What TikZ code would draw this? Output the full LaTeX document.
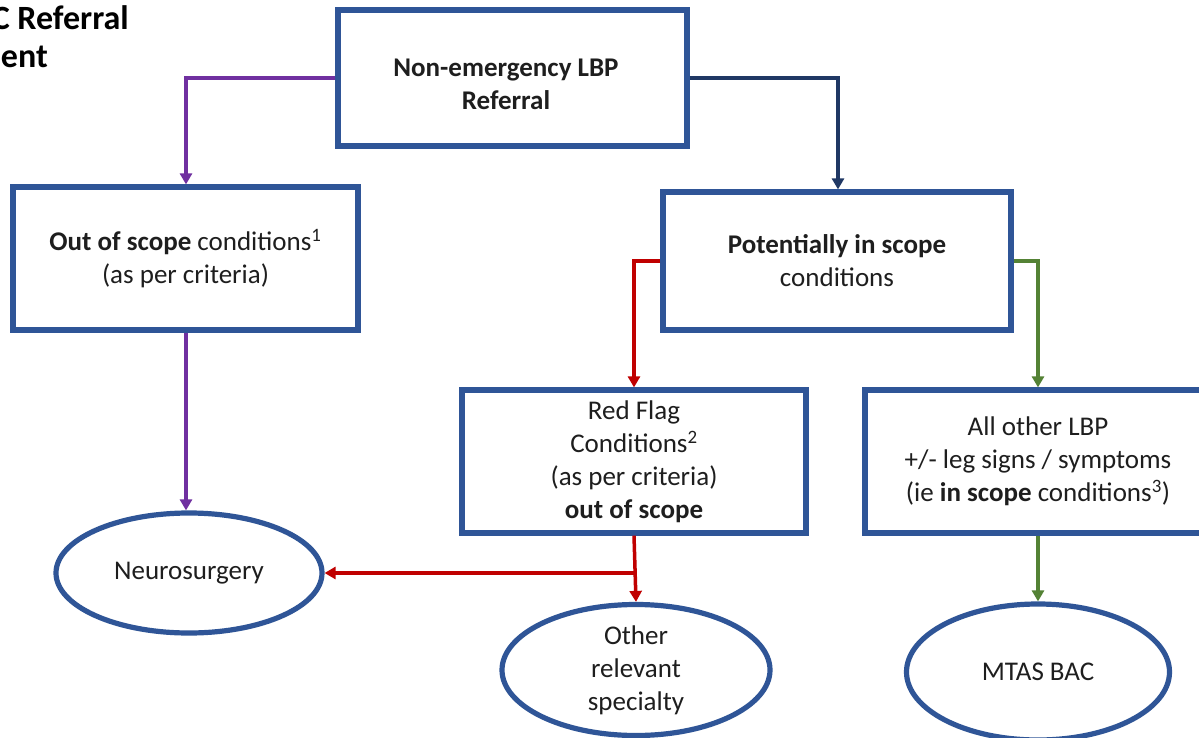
\documentclass[tikz,border=0pt]{standalone}
\usepackage{fontspec}
\setmainfont{Carlito}
\usetikzlibrary{arrows.meta,shapes.geometric}
\definecolor{boxblue}{HTML}{2F5597}
\definecolor{purp}{HTML}{7030A0}
\definecolor{navy}{HTML}{203864}
\definecolor{redc}{HTML}{C00000}
\definecolor{greenc}{HTML}{548235}
\definecolor{txt}{HTML}{1E1E1E}
\tikzset{
  flowbox/.style={draw=boxblue,line width=5.2pt,fill=white,inner sep=0pt,align=center,text=txt,font=\fontsize{27}{33}\selectfont},
  endpt/.style={ellipse,draw=boxblue,line width=5.2pt,fill=white,inner sep=0pt,align=center,text=txt,font=\fontsize{27}{33}\selectfont},
  plaintext/.style={inner sep=0pt,align=center,text=txt,font=\fontsize{27}{33}\selectfont},
  conn/.style={line width=3.5pt,-{Triangle[width=12pt,length=11pt]}},
  title/.style={inner sep=0pt,text=black,font=\fontsize{34}{40}\bfseries\selectfont}
}
\begin{document}
\begin{tikzpicture}[x=1pt,y=-1pt]
\useasboundingbox (0,0) rectangle (1199,738);
\clip (0,0) rectangle (1199,738);
\fill[white] (0,0) rectangle (1199,738);
\node[title,anchor=east] (t1) at (129,18) {C Referral};
\node[title,anchor=east] (t2) at (48,57) {ent};

\node[flowbox,minimum width=349pt,minimum height=136pt] (top) at (512.5,78) {};
\node[plaintext] (toptxt) at (506,84) {\textbf{Non-emergency LBP}\\\textbf{Referral}};
\node[flowbox,minimum width=345pt,minimum height=143pt] (oos) at (185.5,258.5) {\textbf{Out of scope} conditions\textsuperscript{1}\\(as per criteria)};
\node[flowbox,minimum width=348pt,minimum height=138pt] (pis) at (837,261) {\textbf{Potentially in scope}\\conditions};
\node[flowbox,minimum width=344pt,minimum height=143pt] (red) at (634,461.5) {Red Flag\\Conditions\textsuperscript{2}\\(as per criteria)\\\textbf{out of scope}};
\node[flowbox,minimum width=346pt,minimum height=143pt] (other) at (1038,461.5) {All other LBP\\+/- leg signs / symptoms\\(ie \textbf{in scope} conditions\textsuperscript{3})};

\node[endpt,minimum width=266pt,minimum height=120pt] (neuro) at (189,573) {Neurosurgery};
\node[endpt,minimum width=268pt,minimum height=131pt] (spec) at (636,670) {Other\\relevant\\specialty};
\node[endpt,minimum width=263pt,minimum height=136pt] (mtas) at (1038,672) {MTAS BAC};

\coordinate (rb) at (634,573);

\draw[conn,purp] (top.west) -| (oos.north -| 186,0);
\draw[conn,navy] (top.east) -| (pis.north -| 838,0);
\draw[conn,purp] (oos.south -| 186,0) -- (neuro.north -| 186,0);
\draw[conn,redc] (pis.west) -| (red.north);
\draw[conn,greenc] (pis.east) -| (other.north);
\draw[conn,redc] (red.south) -- (spec.north);
\draw[conn,redc] (rb) -- (neuro.east);
\draw[conn,greenc] (other.south) -- (mtas.north);
\end{tikzpicture}
\end{document}
